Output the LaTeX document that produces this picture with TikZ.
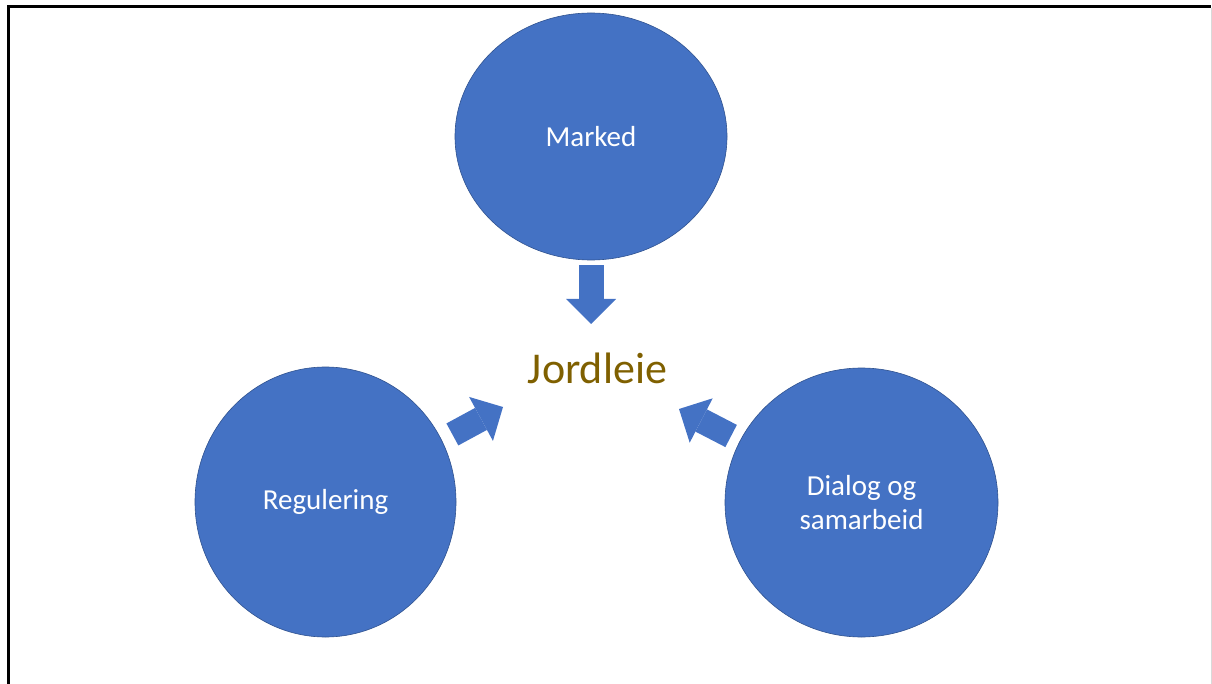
\documentclass[tikz,border=0pt]{standalone}
\usepackage{fontspec}
\setmainfont{Carlito}
\usetikzlibrary{arrows.meta,shapes.geometric}
\definecolor{kontorblaa}{HTML}{4472C4}
\definecolor{kantblaa}{HTML}{2F528F}
\definecolor{jordbrun}{HTML}{7F6000}

\begin{document}
\begin{tikzpicture}[x=1pt,y=1pt,
	sirkel/.style={ellipse,fill=kontorblaa,draw=kantblaa,line width=0.6pt,text=white,inner sep=0pt,align=center,font=\fontsize{29}{34}\selectfont},
	pil/.style={draw=kontorblaa,line width=25pt,-{Triangle[width=50pt,length=25pt,line width=0pt]}}]
	\useasboundingbox (0,0) rectangle (1212,-684);
	% ramme
	\draw[line width=2.7pt] (8.3,-684) -- (8.3,-6.7) -- (1211,-6.7);
	\draw[black!15,line width=1pt] (1211.5,-8) -- (1211.5,-684);

	\node[sirkel,minimum width=272pt,minimum height=247pt] (marked) at (591,-136.5) {Marked};
	\node[sirkel,minimum width=261pt,minimum height=270pt] (regulering) at (325.5,-502) {Regulering};
	\node[sirkel,minimum width=273pt,minimum height=269pt] (dialog) at (861.5,-502.5) {Dialog og\\samarbeid};
	\node[font=\fontsize{44}{50}\selectfont,text=jordbrun,anchor=base,inner sep=0pt] (jordleie) at (597.5,-383) {Jordleie};

	\coordinate (spissM) at (591,-324);
	\coordinate (spissR) at (503,-407);
	\coordinate (spissD) at (679,-409);

	\draw[pil,shorten <=5pt] (marked.south) -- (spissM);
	\draw[pil,shorten <=12pt] (regulering.28) -- (spissR);
	\draw[pil,shorten <=10pt] (dialog.153) -- (spissD);
\end{tikzpicture}
\end{document}
